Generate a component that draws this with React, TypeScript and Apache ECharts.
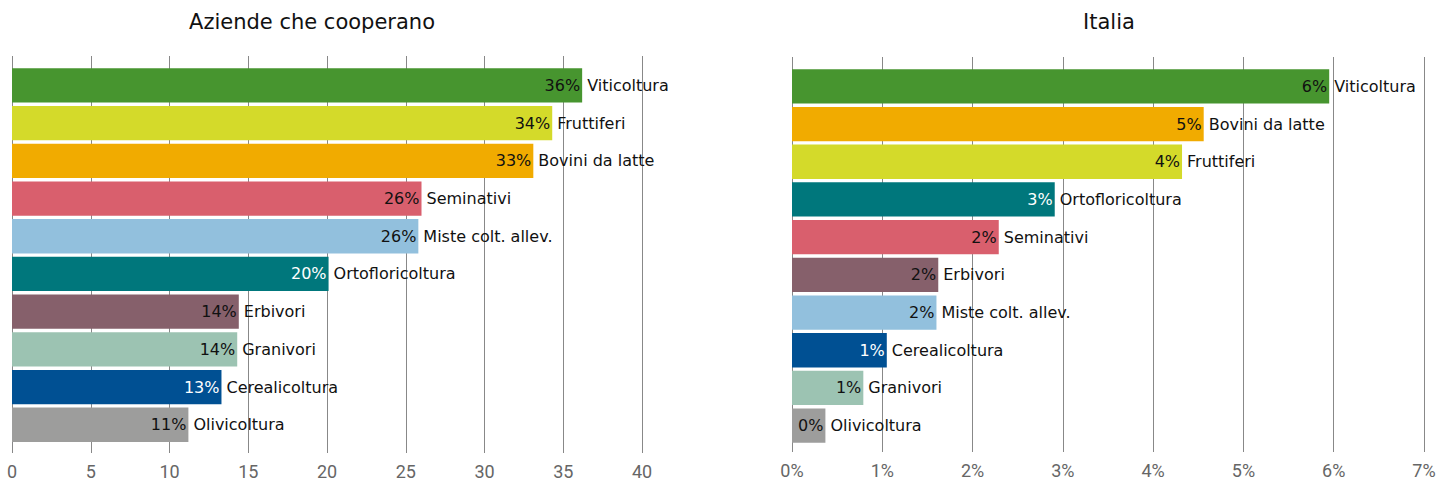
import React, { useEffect, useRef } from "react";
import * as echarts from "echarts";

// ---- Data ----
const leftTitle = "Aziende che cooperano";
const rightTitle = "Italia";

const leftCategories = [
  "Viticoltura",
  "Fruttiferi",
  "Bovini da latte",
  "Seminativi",
  "Miste colt. allev.",
  "Ortofloricoltura",
  "Erbivori",
  "Granivori",
  "Cerealicoltura",
  "Olivicoltura",
];
const leftValues = [36.2, 34.3, 33.1, 26.0, 25.8, 20.1, 14.4, 14.3, 13.3, 11.2];
const leftTicks = [0, 5, 10, 15, 20, 25, 30, 35, 40];

const rightCategories = [
  "Viticoltura",
  "Bovini da latte",
  "Fruttiferi",
  "Ortofloricoltura",
  "Seminativi",
  "Erbivori",
  "Miste colt. allev.",
  "Cerealicoltura",
  "Granivori",
  "Olivicoltura",
];
const rightValues = [5.95, 4.56, 4.32, 2.91, 2.29, 1.62, 1.6, 1.05, 0.79, 0.37];
const rightTicks = [0, 1, 2, 3, 4, 5, 6, 7];

// ---- Styles ----
const categoryColors: Record<string, string> = {
  Viticoltura: "#47952F",
  Fruttiferi: "#D4DA2A",
  "Bovini da latte": "#F1AB00",
  Seminativi: "#D95F6D",
  "Miste colt. allev.": "#92C0DD",
  Ortofloricoltura: "#00777C",
  Erbivori: "#86606B",
  Granivori: "#9CC3B2",
  Cerealicoltura: "#005093",
  Olivicoltura: "#9D9D9C",
};
const whiteLabel = new Set(["Ortofloricoltura", "Cerealicoltura"]);

const LABEL_FONT = "DejaVu Sans";
const AXIS_FONT = "Roboto";
const GRID_COLOR = "#888888";

function valueSeries(cats: string[], vals: number[], xIdx: number, yIdx: number) {
  return {
    type: "bar",
    xAxisIndex: xIdx,
    yAxisIndex: yIdx,
    barCategoryGap: "9%",
    barGap: "-100%",
    data: vals.map((v, i) => ({
      value: v,
      itemStyle: { color: categoryColors[cats[i]] },
      label: { color: whiteLabel.has(cats[i]) ? "#ffffff" : "#111111" },
    })),
    label: {
      show: true,
      position: "insideRight",
      distance: 2,
      fontFamily: LABEL_FONT,
      fontSize: 16,
      formatter: (p: any) => Math.round(p.value) + "%",
    },
  };
}

function nameSeries(cats: string[], vals: number[], xIdx: number, yIdx: number) {
  return {
    type: "bar",
    xAxisIndex: xIdx,
    yAxisIndex: yIdx,
    barCategoryGap: "9%",
    barGap: "-100%",
    silent: true,
    itemStyle: { color: "rgba(0,0,0,0)" },
    data: vals,
    label: {
      show: true,
      position: "right",
      distance: 5,
      color: "#111111",
      fontFamily: LABEL_FONT,
      fontSize: 16,
      formatter: (p: any) => p.name,
    },
  };
}

function gridAxis(gridIndex: number, ticks: number[], suffix: string) {
  return {
    type: "value",
    gridIndex,
    min: ticks[0],
    max: ticks[ticks.length - 1],
    interval: ticks[1] - ticks[0],
    axisLine: { show: false },
    axisTick: { show: false },
    splitLine: { show: true, lineStyle: { color: GRID_COLOR, width: 1 } },
    axisLabel: {
      color: "#666666",
      fontFamily: AXIS_FONT,
      fontWeight: "normal",
      fontSize: 18,
      margin: 9,
      formatter: (v: number) => v + suffix,
    },
  };
}

function hiddenAxis(gridIndex: number, ticks: number[]) {
  return {
    type: "value",
    gridIndex,
    min: ticks[0],
    max: ticks[ticks.length - 1],
    show: false,
  };
}

export default function App() {
  const ref = useRef<HTMLDivElement>(null);

  useEffect(() => {
    if (!ref.current) return;
    const chart = echarts.init(ref.current, undefined, { renderer: "svg" });
    chart.setOption({
      animation: false,
      backgroundColor: "#ffffff",
      title: [
        {
          text: leftTitle,
          left: 307,
          top: 6,
          textAlign: "center",
          textStyle: { fontFamily: LABEL_FONT, fontSize: 21, fontWeight: 500, color: "#111111" },
        },
        {
          text: rightTitle,
          left: 1104,
          top: 6,
          textAlign: "center",
          textStyle: { fontFamily: LABEL_FONT, fontSize: 21, fontWeight: 500, color: "#111111" },
        },
      ],
      grid: [
        { left: 12, width: 630, top: 56, height: 397 },
        { left: 12, width: 630, top: 66.6, height: 377 },
        { left: 792, width: 632, top: 57, height: 395 },
        { left: 792, width: 632, top: 67.5, height: 377 },
      ],
      xAxis: [
        gridAxis(0, leftTicks, ""),
        hiddenAxis(1, leftTicks),
        gridAxis(2, rightTicks, "%"),
        hiddenAxis(3, rightTicks),
      ],
      yAxis: [
        { type: "value", gridIndex: 0, show: false },
        { type: "category", gridIndex: 1, data: leftCategories, inverse: true, show: false },
        { type: "value", gridIndex: 2, show: false },
        { type: "category", gridIndex: 3, data: rightCategories, inverse: true, show: false },
      ],
      series: [
        valueSeries(leftCategories, leftValues, 1, 1),
        nameSeries(leftCategories, leftValues, 1, 1),
        valueSeries(rightCategories, rightValues, 3, 3),
        nameSeries(rightCategories, rightValues, 3, 3),
      ],
    });
    return () => chart.dispose();
  }, []);

  return (
    <div
      ref={ref}
      style={{ position: "absolute", left: 0, top: 0, width: 1439, height: 480 }}
    />
  );
}
